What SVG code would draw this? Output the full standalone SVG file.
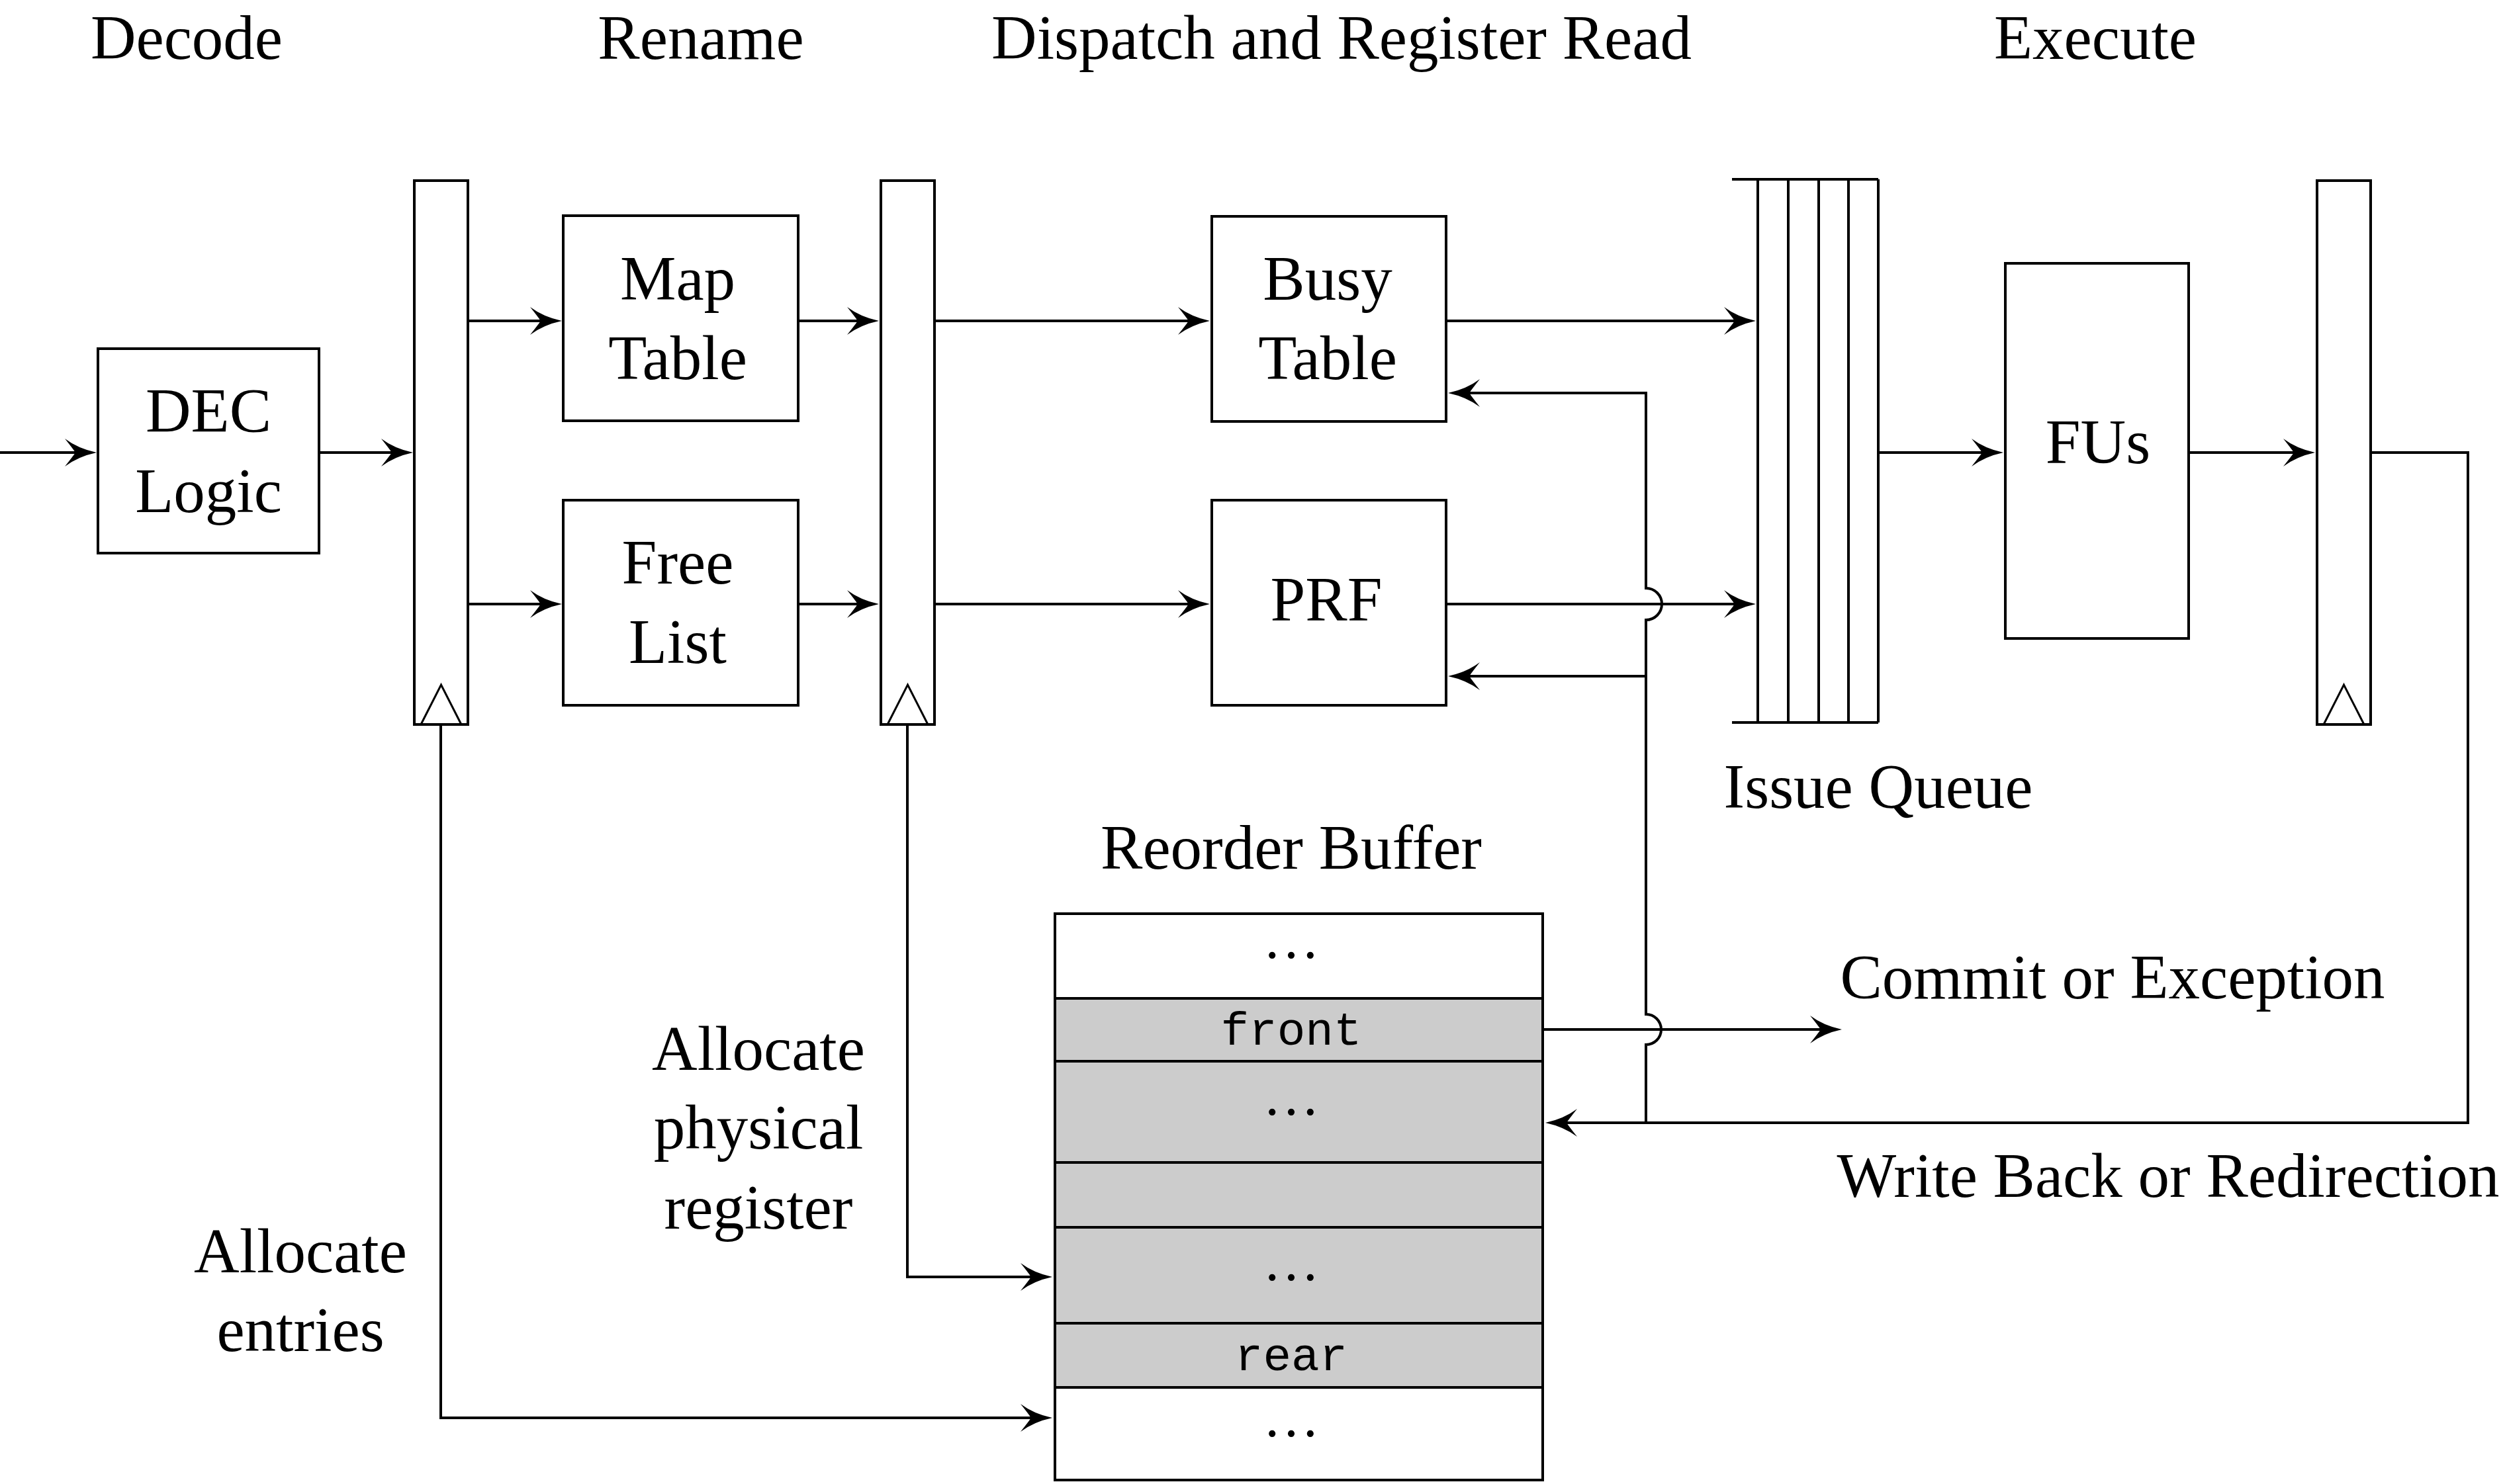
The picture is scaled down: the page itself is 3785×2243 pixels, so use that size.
<svg xmlns="http://www.w3.org/2000/svg" width="3785" height="2243" viewBox="0 0 3785 2243">
<style>
.box{fill:#fff;stroke:#000;stroke-width:4}
.gray{fill:#cccccc;stroke:#000;stroke-width:4}
.tri{fill:none;stroke:#000;stroke-width:3;stroke-linejoin:miter}
.ln{fill:none;stroke:#000;stroke-width:4}
.wire{fill:none;stroke:#000;stroke-width:4;marker-end:url(#arr)}
.t{font-family:"Liberation Serif","Times New Roman",serif;font-size:95px;fill:#000;text-anchor:middle}
.m{font-family:"Liberation Mono","Courier New",monospace;font-size:71px;fill:#000;text-anchor:middle}
.d{font-family:"Liberation Serif","Times New Roman",serif;font-size:86px;fill:#000;text-anchor:middle}
</style>
<defs>
<marker id="arr" markerUnits="userSpaceOnUse" markerWidth="60" markerHeight="50" viewBox="-40 -25 60 50" refX="0" refY="0" orient="auto-start-reverse" overflow="visible">
<path d="M12,0 Q-16,-6 -36,-21 Q-24,-6 -20,0 Q-24,6 -36,21 Q-16,6 12,0 Z" fill="#000"/>
</marker>
</defs>
<rect width="3785" height="2243" fill="#fff"/>

<g id="stage-labels">
<text class="t" x="282" y="89">Decode</text>
<text class="t" x="1059" y="89">Rename</text>
<text class="t" x="2027" y="89">Dispatch and Register Read</text>
<text class="t" x="3166" y="89">Execute</text>
</g>

<g id="dec-logic">
<rect class="box" x="148" y="527" width="334" height="309"/>
<text class="t" x="315" y="653">DEC</text>
<text class="t" x="315" y="774">Logic</text>
</g>

<g id="pipe-reg-1">
<rect class="box" x="626" y="273" width="81" height="822"/>
<path class="tri" d="M636,1095 L666.5,1035 L697,1095"/>
</g>

<g id="map-table">
<rect class="box" x="851" y="326" width="355" height="310"/>
<text class="t" x="1024" y="453">Map</text>
<text class="t" x="1024" y="573">Table</text>
</g>

<g id="free-list">
<rect class="box" x="851" y="756" width="355" height="310"/>
<text class="t" x="1024" y="882">Free</text>
<text class="t" x="1024" y="1002">List</text>
</g>

<g id="pipe-reg-2">
<rect class="box" x="1331" y="273" width="81" height="822"/>
<path class="tri" d="M1341,1095 L1371.5,1035 L1402,1095"/>
</g>

<g id="busy-table">
<rect class="box" x="1831" y="327" width="354" height="310"/>
<text class="t" x="2006" y="453">Busy</text>
<text class="t" x="2006" y="573">Table</text>
</g>

<g id="prf">
<rect class="box" x="1831" y="756" width="354" height="310"/>
<text class="t" x="2004" y="938">PRF</text>
</g>

<g id="issue-queue">
<path class="ln" d="M2617,271 H2838 M2617,1092 H2838 M2656,271 V1092 M2702,271 V1092 M2748,271 V1092 M2793,271 V1092 M2838,271 V1092"/>
<text class="t" x="2838" y="1221">Issue Queue</text>
</g>

<g id="fus">
<rect class="box" x="3030" y="398" width="277" height="567"/>
<text class="t" x="3170" y="700">FUs</text>
</g>

<g id="pipe-reg-3">
<rect class="box" x="3501" y="273" width="81" height="822"/>
<path class="tri" d="M3511,1095 L3541.5,1035 L3572,1095"/>
</g>

<g id="reorder-buffer">
<text class="t" x="1951" y="1313">Reorder Buffer</text>
<rect class="box" x="1594" y="1381" width="737" height="128"/>
<rect class="gray" x="1594" y="1509" width="737" height="95"/>
<rect class="gray" x="1594" y="1604" width="737" height="153"/>
<rect class="gray" x="1594" y="1757" width="737" height="98"/>
<rect class="gray" x="1594" y="1855" width="737" height="145"/>
<rect class="gray" x="1594" y="2000" width="737" height="97"/>
<rect class="box" x="1594" y="2097" width="737" height="140"/>
<text class="d" x="1951" y="1448">…</text>
<text class="m" x="1951" y="1579">front</text>
<text class="d" x="1951" y="1685">…</text>
<text class="d" x="1951" y="1935">…</text>
<text class="m" x="1951" y="2071">rear</text>
<text class="d" x="1951" y="2171">…</text>
</g>

<g id="labels">
<text class="t" x="1146" y="1617">Allocate</text>
<text class="t" x="1146" y="1736">physical</text>
<text class="t" x="1146" y="1857">register</text>
<text class="t" x="454" y="1923">Allocate</text>
<text class="t" x="454" y="2042">entries</text>
<text class="t" x="3192" y="1509">Commit or Exception</text>
<text class="t" x="3276" y="1809">Write Back or Redirection</text>
</g>

<g id="connectors">
<path class="wire" d="M0,684 H134"/>
<path class="wire" d="M482,684 H612"/>
<path class="wire" d="M707,485 H837"/>
<path class="wire" d="M707,913 H837"/>
<path class="wire" d="M1206,485 H1316"/>
<path class="wire" d="M1206,913 H1316"/>
<path class="wire" d="M1412,485 H1816"/>
<path class="wire" d="M1412,913 H1816"/>
<path class="wire" d="M2185,485 H2641"/>
<path class="wire" d="M2185,913 H2641"/>
<path class="wire" d="M2838,684 H3015"/>
<path class="wire" d="M3307,684 H3486"/>
<path class="ln" d="M2200,594 H2487 V889 A24,24 0 0 1 2487,937 V1533 A23,23 0 0 1 2487,1579 V1697" marker-start="url(#arr)"/>
<path class="wire" d="M2487,1022 H2200"/>
<path class="wire" d="M3582,684 H3729 V1697 H2347"/>
<path class="wire" d="M2331,1556 H2771"/>
<path class="wire" d="M666,1095 V2143 H1578"/>
<path class="wire" d="M1371,1095 V1930 H1578"/>
</g>
</svg>
